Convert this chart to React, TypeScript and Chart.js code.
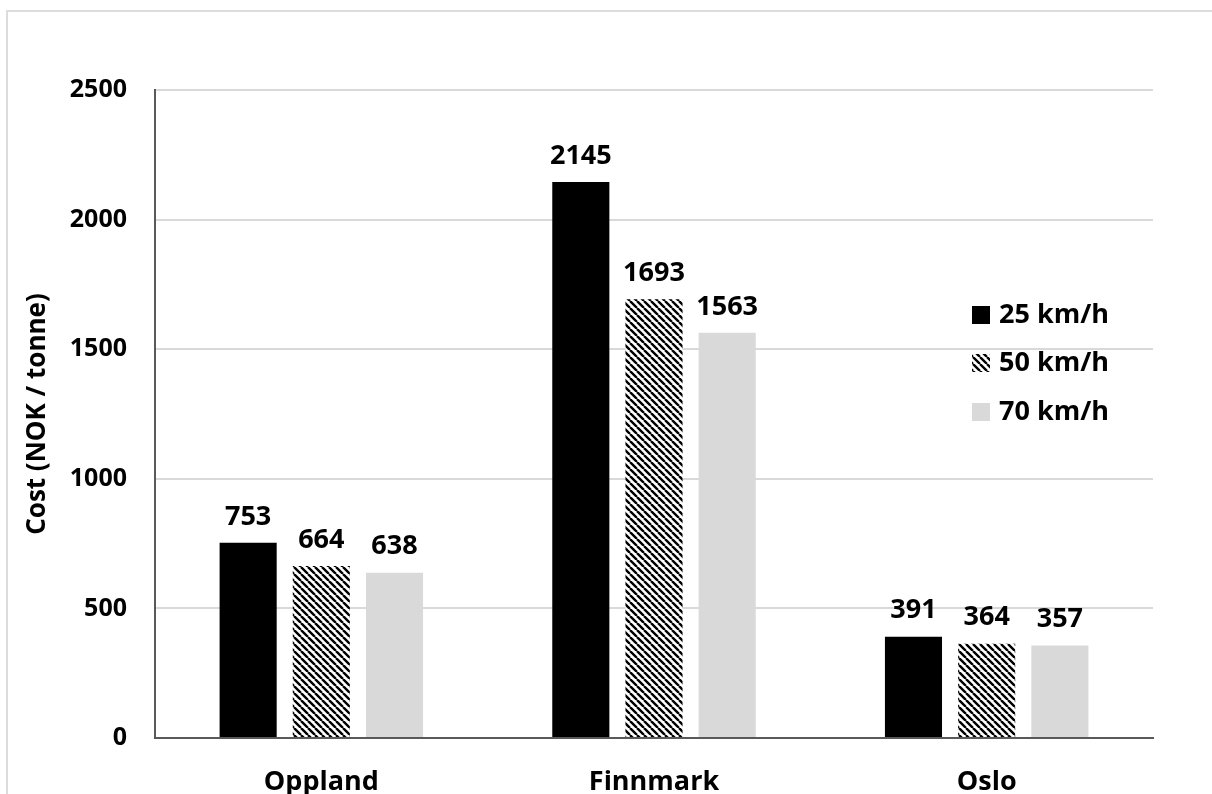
import React, { useEffect, useRef } from "react";
import { Chart, registerables } from "chart.js";

Chart.register(...registerables);

const categories = ["Oppland", "Finnmark", "Oslo"];
const seriesNames = ["25 km/h", "50 km/h", "70 km/h"];
const speed25 = [753, 2145, 391];
const speed50 = [664, 1693, 364];
const speed70 = [638, 1563, 357];
const yTicks = [0, 500, 1000, 1500, 2000, 2500];
const yTitle = "Cost (NOK / tonne)";

const FONT = "'Open Sans', 'DejaVu Sans', sans-serif";

function makeHatch(): CanvasPattern | string {
  const s = 7;
  const c = document.createElement("canvas");
  c.width = s;
  c.height = s;
  const ctx = c.getContext("2d");
  if (!ctx) return "#000";
  ctx.fillStyle = "#ffffff";
  ctx.fillRect(0, 0, s, s);
  ctx.strokeStyle = "#000000";
  ctx.lineWidth = 2.4;
  ctx.beginPath();
  for (const k of [-s, 0, s]) {
    ctx.moveTo(k, 0);
    ctx.lineTo(k + s, s);
  }
  ctx.stroke();
  return ctx.createPattern(c, "repeat") || "#000";
}

export default function App() {
  const ref = useRef<HTMLCanvasElement | null>(null);

  useEffect(() => {
    const canvas = ref.current;
    if (!canvas) return;
    const hatch = makeHatch();
    const colors: any[] = ["#000000", hatch, "#d9d9d9"];
    const values = [speed25, speed50, speed70];

    const framePlugin = {
      id: "frame",
      beforeDraw(chart: any) {
        const ctx = chart.ctx;
        ctx.save();
        ctx.fillStyle = "#ffffff";
        ctx.fillRect(0, 0, chart.width, chart.height);
        ctx.strokeStyle = "#dcdcdc";
        ctx.lineWidth = 2;
        ctx.beginPath();
        ctx.moveTo(7, chart.height);
        ctx.lineTo(7, 11);
        ctx.lineTo(chart.width, 11);
        ctx.stroke();
        ctx.restore();
      },
    };

    const labelPlugin = {
      id: "valueLabels",
      afterDatasetsDraw(chart: any) {
        const ctx = chart.ctx;
        ctx.save();
        ctx.font = `bold 27px ${FONT}`;
        ctx.fillStyle = "#000";
        ctx.textAlign = "center";
        ctx.textBaseline = "middle";
        chart.data.datasets.forEach((ds: any, di: number) => {
          const meta = chart.getDatasetMeta(di);
          meta.data.forEach((bar: any, i: number) => {
            ctx.fillText(String(ds.data[i]), bar.x, bar.y - 26);
          });
        });
        ctx.restore();
      },
    };

    const titleLegendPlugin = {
      id: "titleLegend",
      afterDraw(chart: any) {
        const ctx = chart.ctx;
        const area = chart.chartArea;
        ctx.save();
        ctx.font = `bold 26px ${FONT}`;
        ctx.fillStyle = "#000";
        ctx.textAlign = "center";
        ctx.textBaseline = "middle";
        ctx.translate(38, (area.top + area.bottom) / 2);
        ctx.rotate(-Math.PI / 2);
        ctx.fillText(yTitle, 0, 0);
        ctx.restore();

        ctx.save();
        ctx.font = `bold 27px ${FONT}`;
        ctx.textAlign = "left";
        ctx.textBaseline = "middle";
        const boxX = 972;
        const rows = [315, 363, 412];
        chart.data.datasets.forEach((ds: any, di: number) => {
          const cy = rows[di];
          ctx.fillStyle = ds.backgroundColor;
          ctx.fillRect(boxX, cy - 9, 18, 18);
          ctx.fillStyle = "#000";
          ctx.fillText(ds.label, 999, cy);
        });
        ctx.restore();
      },
    };

    const chart = new Chart(canvas, {
      type: "bar",
      data: {
        labels: categories,
        datasets: seriesNames.map((name, i) => ({
          label: name,
          data: values[i],
          backgroundColor: colors[i],
          borderWidth: 0,
          barPercentage: 0.78,
          categoryPercentage: 0.66,
        })),
      },
      options: {
        responsive: false,
        animation: false,
        layout: { padding: { top: 90, right: 59, left: 0, bottom: 0 } },
        plugins: {
          legend: { display: false },
          tooltip: { enabled: false },
        },
        scales: {
          x: {
            grid: { display: false, drawTicks: false },
            border: { display: true, color: "#595959", width: 2 },
            ticks: { color: "#000", font: { family: FONT, size: 27, weight: "bold" }, padding: 28 },
            afterFit: (s: any) => {
              s.height = 56;
            },
          },
          y: {
            min: 0,
            max: 2500,
            afterBuildTicks: (s: any) => {
              s.ticks = yTicks.map((v) => ({ value: v }));
            },
            grid: { color: "#d9d9d9", lineWidth: 2, drawTicks: false },
            border: { display: true, color: "#595959", width: 2 },
            ticks: {
              color: "#000",
              font: { family: FONT, size: 25, weight: "bold" },
              padding: 28,
              callback: (v: any) => String(v),
            },
            afterFit: (s: any) => {
              s.width = 155;
            },
          },
        },
      } as any,
      plugins: [framePlugin, labelPlugin, titleLegendPlugin],
    });

    return () => chart.destroy();
  }, []);

  return (
    <div style={{ position: "fixed", left: 0, top: 0, width: 1212, height: 794, overflow: "hidden" }}>
      <canvas ref={ref} width={1212} height={794} style={{ display: "block" }} />
    </div>
  );
}
